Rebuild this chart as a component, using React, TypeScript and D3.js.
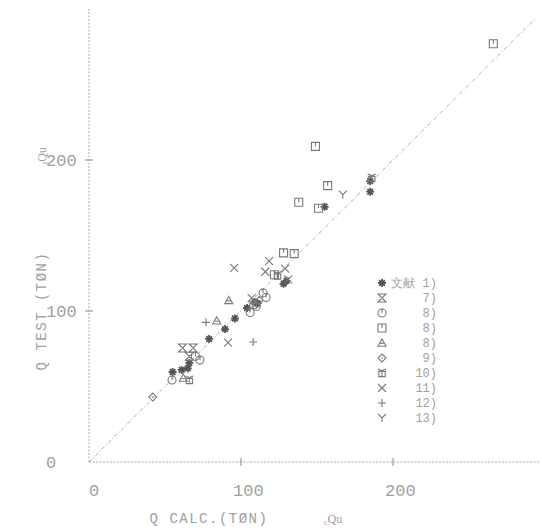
import React, { useEffect, useRef } from "react";
import * as d3 from "d3";

const W = 542;
const H = 528;

// legend order: symbol key + reference label
const seriesKeys = ["ast", "hour", "circ", "box", "tri", "dia", "flow", "x", "plus", "y"];
const seriesLabels = ["文献 1)", "7)", "8)", "8)", "8)", "9)", "10)", "11)", "12)", "13)"];

// [Q calc, Q test] pairs per series
const ast = [[185, 186], [185, 179], [128, 118], [130, 120], [109, 106], [111, 105], [96, 95], [89.5, 88], [79, 81.5], [65, 62], [66, 65.6], [55, 59.6], [61, 61], [155, 169], [104, 102]];
const hour = [[61.5, 75.5], [68.5, 75.5], [66, 70]];
const circ = [[114.5, 112], [116.5, 109], [106, 99], [73, 67.5], [54.6, 54.3], [70, 70], [110, 103]];
const box = [[266, 277], [149, 209], [157, 183], [138, 172], [151, 168], [128, 138.5], [135, 138], [122, 124]];
const tri = [[92, 107], [84, 93.5], [62, 55.6]];
const dia = [[42, 43], [112, 107]];
const flow = [[186, 188], [66, 54.3], [124, 123.5], [108, 104]];
const xs = [[95.5, 128.5], [116, 126], [118.5, 133], [129, 128], [107, 108.6], [91.5, 79], [131, 121]];
const plus = [[77, 92.5], [108, 79.5]];
const ys = [[167, 177]];

const seriesData = [ast, hour, circ, box, tri, dia, flow, xs, plus, ys];

const xTicks = [0, 100, 200];
const yTicks = [0, 100, 200];

const ink = "#7a7a7a";
const txt = "#a0a0a0";
const font = "'Liberation Mono', 'DejaVu Sans Mono', monospace";

const drawSymbol = (g, key, cx, cy) => {
  const s = 4;
  const p = d3.path();
  const node = g.append("g").attr("transform", `translate(${cx},${cy})`);
  if (key === "ast") {
    for (let i = 0; i < 4; i++) {
      const a = (i * Math.PI) / 4;
      p.moveTo(-s * Math.cos(a), -s * Math.sin(a));
      p.lineTo(s * Math.cos(a), s * Math.sin(a));
    }
    node.append("path").attr("d", p.toString()).attr("stroke", "#555").attr("stroke-width", 1.8);
    return;
  }
  if (key === "hour") {
    p.moveTo(-s, -s); p.lineTo(s, -s); p.lineTo(-s, s); p.lineTo(s, s); p.closePath();
    p.moveTo(-s, -s); p.lineTo(s, s);
  } else if (key === "circ") {
    p.moveTo(s, 0); p.arc(0, 0, s, 0, Math.PI * 2);
    p.moveTo(0, -s); p.lineTo(0, 0);
  } else if (key === "box") {
    p.rect(-s, -s, 2 * s, 2 * s);
    p.moveTo(0, -s); p.lineTo(0, 0);
  } else if (key === "tri") {
    p.moveTo(0, -s); p.lineTo(s, s * 0.8); p.lineTo(-s, s * 0.8); p.closePath();
    p.moveTo(-s * 0.4, s * 0.1); p.lineTo(s * 0.4, s * 0.1);
  } else if (key === "dia") {
    p.moveTo(0, -s); p.lineTo(s, 0); p.lineTo(0, s); p.lineTo(-s, 0); p.closePath();
    p.moveTo(-1, 0); p.lineTo(1, 0);
  } else if (key === "flow") {
    p.rect(-s * 0.8, -s * 0.4, s * 1.6, s * 1.3);
    p.moveTo(-s, -s); p.lineTo(s, -s * 0.2);
    p.moveTo(s, -s); p.lineTo(-s, -s * 0.2);
    p.moveTo(0, -s * 0.4); p.lineTo(0, s * 0.9);
  } else if (key === "x") {
    p.moveTo(-s, -s); p.lineTo(s, s); p.moveTo(s, -s); p.lineTo(-s, s);
  } else if (key === "plus") {
    p.moveTo(-s, 0); p.lineTo(s, 0); p.moveTo(0, -s); p.lineTo(0, s);
  } else if (key === "y") {
    p.moveTo(-s, -s); p.lineTo(0, 0); p.lineTo(s, -s); p.moveTo(0, 0); p.lineTo(0, s);
  }
  node.append("path").attr("d", p.toString()).attr("fill", "none").attr("stroke", ink).attr("stroke-width", 1.1);
};

const ScatterChart = () => {
  const ref = useRef(null);

  useEffect(() => {
    const svg = d3.select(ref.current);
    svg.selectAll("*").remove();

    const x = d3.scaleLinear().domain([0, 300]).range([89, 545]);
    const y = d3.scaleLinear().domain([0, 300]).range([462, 9]);

    // axes, dotted like the plotter
    svg.append("line")
      .attr("x1", x(0)).attr("x2", x(297)).attr("y1", y(0)).attr("y2", y(0))
      .attr("stroke", "#aaa").attr("stroke-dasharray", "2 1.5");
    svg.append("line")
      .attr("x1", x(0)).attr("x2", x(0)).attr("y1", y(0)).attr("y2", y(300))
      .attr("stroke", "#aaa").attr("stroke-dasharray", "2 1.5");

    // 1:1 line
    svg.append("line")
      .attr("x1", x(0)).attr("y1", y(0)).attr("x2", x(294)).attr("y2", y(294))
      .attr("stroke", "#b0b0b0").attr("stroke-dasharray", "4 2 1 2");

    // tick marks
    xTicks.filter((d) => d > 0).forEach((d) => {
      svg.append("line").attr("x1", x(d)).attr("x2", x(d)).attr("y1", y(0) - 4).attr("y2", y(0) + 4).attr("stroke", "#888");
    });
    yTicks.filter((d) => d > 0).forEach((d) => {
      svg.append("line").attr("x1", x(0) - 4).attr("x2", x(0) + 4).attr("y1", y(d)).attr("y2", y(d)).attr("stroke", "#888");
    });

    // tick labels
    svg.selectAll(".xt").data(xTicks).enter().append("text")
      .attr("x", (d) => x(d) + (d === 0 ? 0 : -8)).attr("y", 496)
      .text((d) => d)
      .attr("font-family", font).attr("font-size", 17).attr("fill", txt);
    svg.selectAll(".yt").data(yTicks).enter().append("text")
      .attr("x", 46).attr("y", (d) => y(d) + 6)
      .text((d) => d)
      .attr("font-family", font).attr("font-size", 17).attr("fill", txt);

    // axis titles
    svg.append("text").attr("x", 209).attr("y", 523).attr("text-anchor", "middle")
      .attr("font-family", font).attr("font-size", 14).attr("letter-spacing", 1.5).attr("fill", txt)
      .text("Q CALC.(TØN)");
    const cq = svg.append("text").attr("x", 324).attr("y", 523)
      .attr("font-family", "serif").attr("font-size", 12).attr("fill", txt);
    cq.append("tspan").attr("font-size", 8).attr("dy", 2).text("c");
    cq.append("tspan").attr("dy", -2).text("Qu");

    svg.append("text").attr("transform", "translate(46,311) rotate(-90)").attr("text-anchor", "middle")
      .attr("font-family", font).attr("font-size", 14).attr("letter-spacing", 1.5).attr("fill", txt)
      .text("Q TEST (TØN)");
    const tq = svg.append("text").attr("transform", "translate(46,164) rotate(-90)")
      .attr("font-family", "serif").attr("font-size", 12).attr("fill", txt);
    tq.append("tspan").attr("font-size", 8).attr("dy", 2).text("t");
    tq.append("tspan").attr("dy", -2).text("Qu");

    // points
    const pts = svg.append("g");
    seriesData.forEach((rows, i) => {
      rows.forEach((r) => drawSymbol(pts, seriesKeys[i], x(r[0]), y(r[1])));
    });

    // legend
    const lg = svg.append("g");
    seriesKeys.forEach((k, i) => {
      const ly = 283 + i * 15;
      drawSymbol(lg, k, 382, ly);
      lg.append("text").attr("x", 437).attr("y", ly + 4).attr("text-anchor", "end")
        .attr("font-family", font).attr("font-size", 12).attr("fill", txt)
        .text(seriesLabels[i]);
    });
  }, []);

  return <svg ref={ref} width={W} height={H} style={{ position: "absolute", left: 0, top: 0, background: "#fff" }}></svg>;
};

export default function App() {
  return <ScatterChart />;
}
